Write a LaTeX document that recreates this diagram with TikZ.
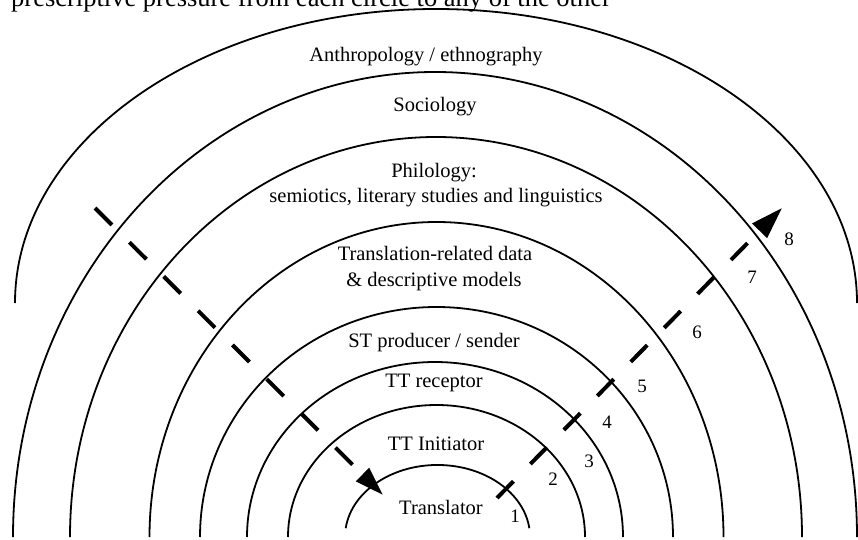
\documentclass[tikz,border=0pt]{standalone}
\usepackage{fontspec}
\setmainfont{Liberation Serif}
\usetikzlibrary{arrows.meta}
\begin{document}
\begin{tikzpicture}[x=1pt,y=1pt,
  ring/.style={line width=1.8pt},
  flow/.style={line width=4pt},
  lbl/.style={font=\fontsize{20.5}{24}\selectfont, inner sep=0pt, anchor=base},
  num/.style={font=\fontsize{19}{21}\selectfont, inner sep=0pt, anchor=base}]
\useasboundingbox (0,0) rectangle (858,539);
\clip (0,0) rectangle (858,539);
% partial line of body text at the top edge
\node[anchor=base west, inner sep=0pt] (toptext) at (11,532) {\fontsize{26.5}{30}\selectfont prescriptive pressure from each circle to any of the other};
% circles
\draw[ring] (15,236) arc[start angle=180,end angle=0,x radius=421pt,y radius=294pt];
\draw[ring] (13,2) arc[start angle=180,end angle=0,x radius=422pt,y radius=465pt];
\draw[ring] (70,2) arc[start angle=180,end angle=0,x radius=366pt,y radius=400pt];
\draw[ring] (149.5,2) arc[start angle=180,end angle=0,x radius=287pt,y radius=315pt];
\draw[ring] (200,2) arc[start angle=180,end angle=0,x radius=236.5pt,y radius=230pt];
\draw[ring] (247,2) arc[start angle=180,end angle=0,x radius=188pt,y radius=175pt];
\draw[ring] (288,2) arc[start angle=180,end angle=0,x radius=148.5pt,y radius=132pt];
\draw[ring] (345.7,10.8) arc[start angle=173,end angle=7,x radius=92.5pt,y radius=72pt];
% labels
\node[lbl] (anth) at (426,477) {Anthropology / ethnography};
\node[lbl] (soc) at (435,427) {Sociology};
\node[lbl] (phil) at (434,361) {Philology:};
\node[lbl] (semi) at (436,337) {semiotics, literary studies and linguistics};
\node[lbl] (trd) at (435,279) {Translation-related data};
\node[lbl] (desc) at (434,253) {\& descriptive models};
\node[lbl] (st) at (434,192) {ST producer / sender};
\node[lbl] (ttr) at (434,152) {TT receptor};
\node[lbl] (tti) at (436,89) {TT Initiator};
\node[lbl] (tr) at (441,25) {Translator};
% numbers
\node[num] (n1) at (515,17) {1};
\node[num] (n2) at (553,54) {2};
\node[num] (n3) at (589,72) {3};
\node[num] (n4) at (607,111) {4};
\node[num] (n5) at (642,147) {5};
\node[num] (n6) at (697,201) {6};
\node[num] (n7) at (752,256) {7};
\node[num] (n8) at (789,294) {8};
% dashed arrows
\coordinate (ls) at (95,331);
\coordinate (le) at (383,44);
\coordinate (rs) at (497,41);
\coordinate (re) at (782,331);
\draw[flow, dash pattern=on 24pt off 24.5pt, -{Triangle[length=29pt,width=18pt]}] (ls) -- (le);
\draw[flow, dash pattern=on 23.5pt off 24.2pt, -{Triangle[length=32pt,width=20pt]}] (rs) -- (re);
\end{tikzpicture}
\end{document}
